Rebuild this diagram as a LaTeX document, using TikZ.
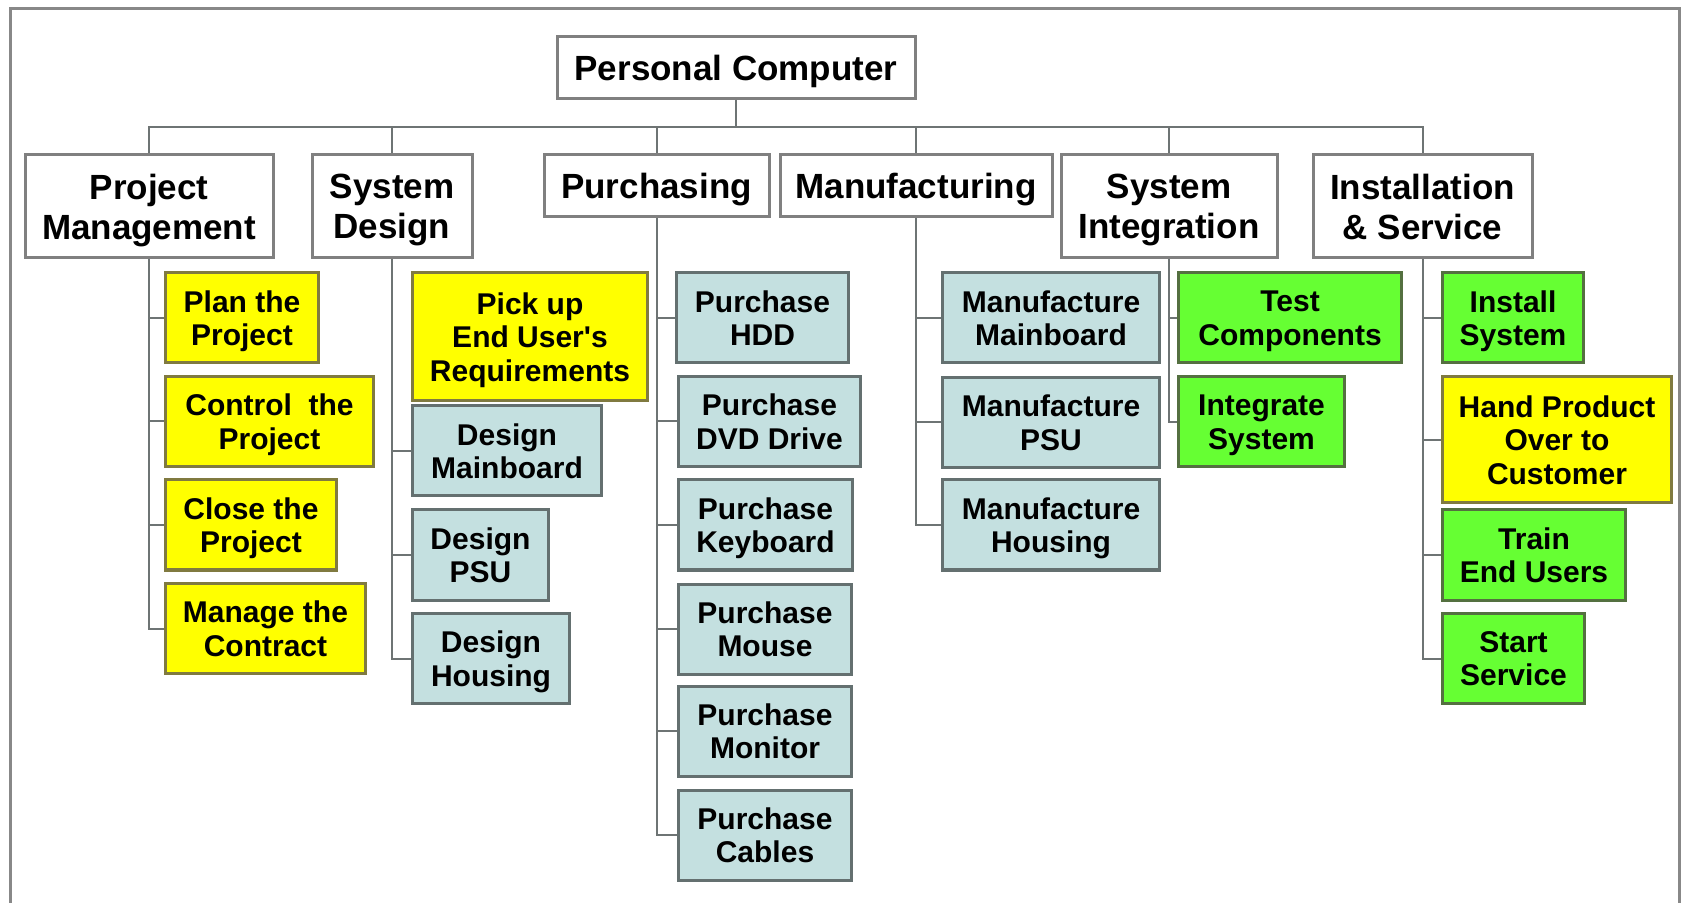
\documentclass[tikz,border=0pt]{standalone}
\usepackage{fontspec}
\newfontfamily\wbsfont{Liberation Sans}
\usepackage{tikz}
\definecolor{wbsyellow}{RGB}{255,255,0}
\definecolor{wbsblue}{RGB}{196,224,224}
\definecolor{wbsgreen}{RGB}{102,255,51}
\definecolor{wbsline}{RGB}{110,116,116}
\definecolor{wbsframe}{RGB}{136,136,136}
\begin{document}
\begin{tikzpicture}[x=0.5pt,y=-0.5pt,
	box/.style={draw=gray,line width=1.5pt,fill=white,align=center,inner sep=0pt,text depth=0pt,
		font=\wbsfont\bfseries\fontsize{17.5}{20}\selectfont},
	task/.style={draw,line width=1.5pt,anchor=west,align=center,inner sep=0pt,minimum height=45pt,
		text depth=0pt,font=\wbsfont\bfseries\fontsize{15}{16.7}\selectfont},
	yel/.style={task,fill=wbsyellow,draw={rgb,255:red,128;green,122;blue,64}},
	blu/.style={task,fill=wbsblue,draw={rgb,255:red,100;green,112;blue,112}},
	grn/.style={task,fill=wbsgreen,draw={rgb,255:red,84;green,112;blue,64}},
	link/.style={draw=wbsline,line width=1pt}]
	\useasboundingbox (0,0) rectangle (1682,903);
	\draw[wbsframe,line width=1.5pt] (10,903) -- (10,9) -- (1679,9) -- (1679,903);
	\node[box,minimum width=179pt,minimum height=31pt] (pc) at (736,67.5) {Personal Computer};
	\node[box,minimum width=124pt,minimum height=51.5pt] (pm) at (149,206.5) {Project\\Management};
	\node[box,minimum width=80pt,minimum height=51.5pt] (sd) at (392,206.5) {System\\Design};
	\node[box,minimum width=112.5pt,minimum height=31pt] (pur) at (656.5,186) {Purchasing};
	\node[box,minimum width=136pt,minimum height=31pt] (man) at (916,186) {Manufacturing};
	\node[box,minimum width=108pt,minimum height=51.5pt] (si) at (1169,206.5) {System\\Integration};
	\node[box,minimum width=109.5pt,minimum height=51.5pt] (ins) at (1422.5,206.5) {Installation\\\& Service};
	\coordinate (bus) at (736,127);
	\node[yel,minimum width=76.5pt] (plan) at (164,318) {Plan the\\Project};
	\node[yel,minimum width=104pt] (control) at (164,421.5) {Control~ the\\Project};
	\node[yel,minimum width=85.5pt] (close) at (164,525) {Close the\\Project};
	\node[yel,minimum width=100pt] (contract) at (164,628.5) {Manage the\\Contract};
	\node[yel,minimum width=117.5pt,minimum height=64pt] (pick) at (411,337) {Pick up\\End User's\\Requirements};
	\node[blu,minimum width=94.5pt] (dmain) at (411,451) {Design\\Mainboard};
	\node[blu,minimum width=68pt] (dpsu) at (411,555) {Design\\PSU};
	\node[blu,minimum width=78.5pt] (dhousing) at (411,658.5) {Design\\Housing};
	\node[blu,minimum width=86pt] (phdd) at (675,318) {Purchase\\HDD};
	\node[blu,minimum width=91pt] (pdvd) at (677,421.5) {Purchase\\DVD Drive};
	\node[blu,minimum width=87pt] (pkey) at (677,525) {Purchase\\Keyboard};
	\node[blu,minimum width=86.5pt] (pmouse) at (677,629) {Purchase\\Mouse};
	\node[blu,minimum width=86.5pt] (pmon) at (677,731) {Purchase\\Monitor};
	\node[blu,minimum width=86.5pt] (pcab) at (677,835) {Purchase\\Cables};
	\node[blu,minimum width=108.5pt] (mmain) at (941,318) {Manufacture\\Mainboard};
	\node[blu,minimum width=108.5pt] (mpsu) at (941,422.5) {Manufacture\\PSU};
	\node[blu,minimum width=108.5pt] (mhousing) at (941,525) {Manufacture\\Housing};
	\node[grn,minimum width=111.5pt] (test) at (1177,318) {Test\\Components};
	\node[grn,minimum width=83pt] (integ) at (1177,422) {Integrate\\System};
	\node[grn,minimum width=70.5pt] (install) at (1441,318) {Install\\System};
	\node[yel,minimum width=114.5pt,minimum height=63pt] (hand) at (1441,440) {Hand Product\\Over to\\Customer};
	\node[grn,minimum width=91.5pt] (train) at (1441,555) {Train\\End Users};
	\node[grn,minimum width=71pt] (start) at (1441,658.5) {Start\\Service};
	\path[link] (pc) -- (bus);
	\foreach \n in {pm,sd,pur,man,si,ins}
		\path[link] (bus) -| (\n.north);
	\foreach \p/\c in {pm/plan,pm/control,pm/close,pm/contract,
		sd/dmain,sd/dpsu,sd/dhousing,
		pur/phdd,pur/pdvd,pur/pkey,pur/pmouse,pur/pmon,pur/pcab,
		man/mmain,man/mpsu,man/mhousing,
		si/test,si/integ,
		ins/install,ins/hand,ins/train,ins/start}
		\path[link] (\p.south) |- (\c.west);
\end{tikzpicture}
\end{document}
